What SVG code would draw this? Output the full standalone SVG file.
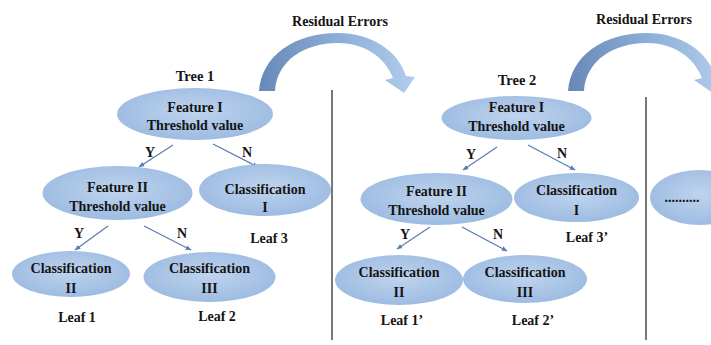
<svg xmlns="http://www.w3.org/2000/svg" width="711" height="345" viewBox="0 0 711 345">
<defs>
<radialGradient id="nodeFill" cx="50%" cy="45%" r="60%">
<stop offset="0%" stop-color="#bfd4ee"/>
<stop offset="100%" stop-color="#9ab9e0"/>
</radialGradient>
<linearGradient id="arcFill" x1="0" y1="0" x2="1" y2="0">
<stop offset="0%" stop-color="#6689b8"/>
<stop offset="55%" stop-color="#8fb0d8"/>
<stop offset="100%" stop-color="#b3cdec"/>
</linearGradient>
<marker id="ah" viewBox="0 0 10 10" refX="9" refY="5" markerWidth="6" markerHeight="6" orient="auto" markerUnits="userSpaceOnUse">
<path d="M0,1 L10,5 L0,9 Z" fill="#5b7bb2"/>
</marker>
<path id="bigArc" d="M259,91 C262,55 295,33 338,33 C370,33 398,50 406,76 L415,77 L404,93 L385,80 L393,78 C384,55 362,43 338,43 C305,43 277,60 275,91 Z"/>
</defs>
<style>
.n ellipse{fill:url(#nodeFill);}
text{font-family:"Liberation Serif","Times New Roman",serif;font-weight:bold;fill:#141414;text-anchor:middle;}
.t{font-size:14px;}
.s{font-size:14.5px;}
.c line{stroke:#5b7bb2;stroke-width:1.2;marker-end:url(#ah);}
.sep{stroke:#4a4a4a;stroke-width:1.5;}
</style>
<rect width="711" height="345" fill="#ffffff"/>

<!-- residual error arcs -->
<g id="residual1">
<use href="#bigArc" fill="url(#arcFill)"/>
<text class="t" x="340" y="26">Residual Errors</text>
</g>
<g id="residual2">
<use href="#bigArc" fill="url(#arcFill)" transform="translate(309,0)"/>
<text class="t" x="644" y="24">Residual Errors</text>
</g>

<!-- separators -->
<line class="sep" x1="332" y1="90" x2="332" y2="340"/>
<line class="sep" x1="646" y1="97" x2="646" y2="340"/>

<!-- connectors -->
<g id="connectors" class="c">
<line x1="173" y1="145" x2="139" y2="167"/>
<line x1="213" y1="144" x2="258" y2="167"/>
<line x1="108" y1="226" x2="75" y2="250"/>
<line x1="144" y1="226" x2="191" y2="250"/>
<line x1="497" y1="147" x2="463" y2="170"/>
<line x1="528" y1="145" x2="575" y2="170"/>
<line x1="430" y1="227" x2="397" y2="249"/>
<line x1="462" y1="227" x2="507" y2="251"/>
</g>
<g id="edge-labels">
<text class="t" x="150" y="157">Y</text>
<text class="t" x="247" y="157">N</text>
<text class="t" x="79" y="238">Y</text>
<text class="t" x="182" y="238">N</text>
<text class="t" x="471" y="159">Y</text>
<text class="t" x="562" y="158">N</text>
<text class="t" x="405" y="239">Y</text>
<text class="t" x="498" y="239">N</text>
</g>

<!-- Tree 1 -->
<text class="s" x="195" y="81">Tree 1</text>
<g id="t1-root" class="n">
<ellipse cx="195" cy="114" rx="78" ry="26"/>
<text class="t" x="195" y="112">Feature I</text>
<text class="t" x="195" y="130">Threshold value</text>
</g>
<g id="t1-f2" class="n">
<ellipse cx="117.5" cy="193" rx="75" ry="27"/>
<text class="t" x="117.5" y="192">Feature II</text>
<text class="t" x="117.5" y="211">Threshold value</text>
</g>
<g id="t1-leaf3" class="n">
<ellipse cx="265" cy="190" rx="66" ry="26"/>
<text class="t" x="265" y="194">Classification</text>
<text class="t" x="265" y="212">I</text>
<text class="t" x="269" y="243">Leaf 3</text>
</g>
<g id="t1-leaf1" class="n">
<ellipse cx="71" cy="274" rx="59" ry="23"/>
<text class="t" x="71" y="273">Classification</text>
<text class="t" x="71" y="293">II</text>
<text class="t" x="77" y="322">Leaf 1</text>
</g>
<g id="t1-leaf2" class="n">
<ellipse cx="209.5" cy="277" rx="66" ry="25"/>
<text class="t" x="209.5" y="273">Classification</text>
<text class="t" x="209.5" y="293">III</text>
<text class="t" x="217" y="321">Leaf 2</text>
</g>

<!-- Tree 2 -->
<text class="s" x="517" y="85">Tree 2</text>
<g id="t2-root" class="n">
<ellipse cx="516.5" cy="118" rx="75" ry="22"/>
<text class="t" x="516.5" y="112">Feature I</text>
<text class="t" x="516.5" y="131">Threshold value</text>
</g>
<g id="t2-f2" class="n">
<ellipse cx="436.5" cy="199" rx="76" ry="26"/>
<text class="t" x="436.5" y="196">Feature II</text>
<text class="t" x="436.5" y="215">Threshold value</text>
</g>
<g id="t2-leaf3" class="n">
<ellipse cx="576.5" cy="197.5" rx="62.5" ry="24.5"/>
<text class="t" x="576.5" y="195">Classification</text>
<text class="t" x="576.5" y="215">I</text>
<text class="t" x="587" y="242">Leaf 3’</text>
</g>
<g id="t2-leaf1" class="n">
<ellipse cx="399" cy="280" rx="64" ry="25"/>
<text class="t" x="399" y="277">Classification</text>
<text class="t" x="399" y="297">II</text>
<text class="t" x="402" y="325">Leaf 1’</text>
</g>
<g id="t2-leaf2" class="n">
<ellipse cx="525" cy="279" rx="62" ry="24"/>
<text class="t" x="525" y="277">Classification</text>
<text class="t" x="525" y="297">III</text>
<text class="t" x="533" y="325">Leaf 2’</text>
</g>

<!-- Tree 3 (partial) -->
<g id="t3-root" class="n">
<ellipse cx="700" cy="197.5" rx="50" ry="27.5"/>
<text class="t" x="682" y="202">..........</text>
</g>
</svg>
